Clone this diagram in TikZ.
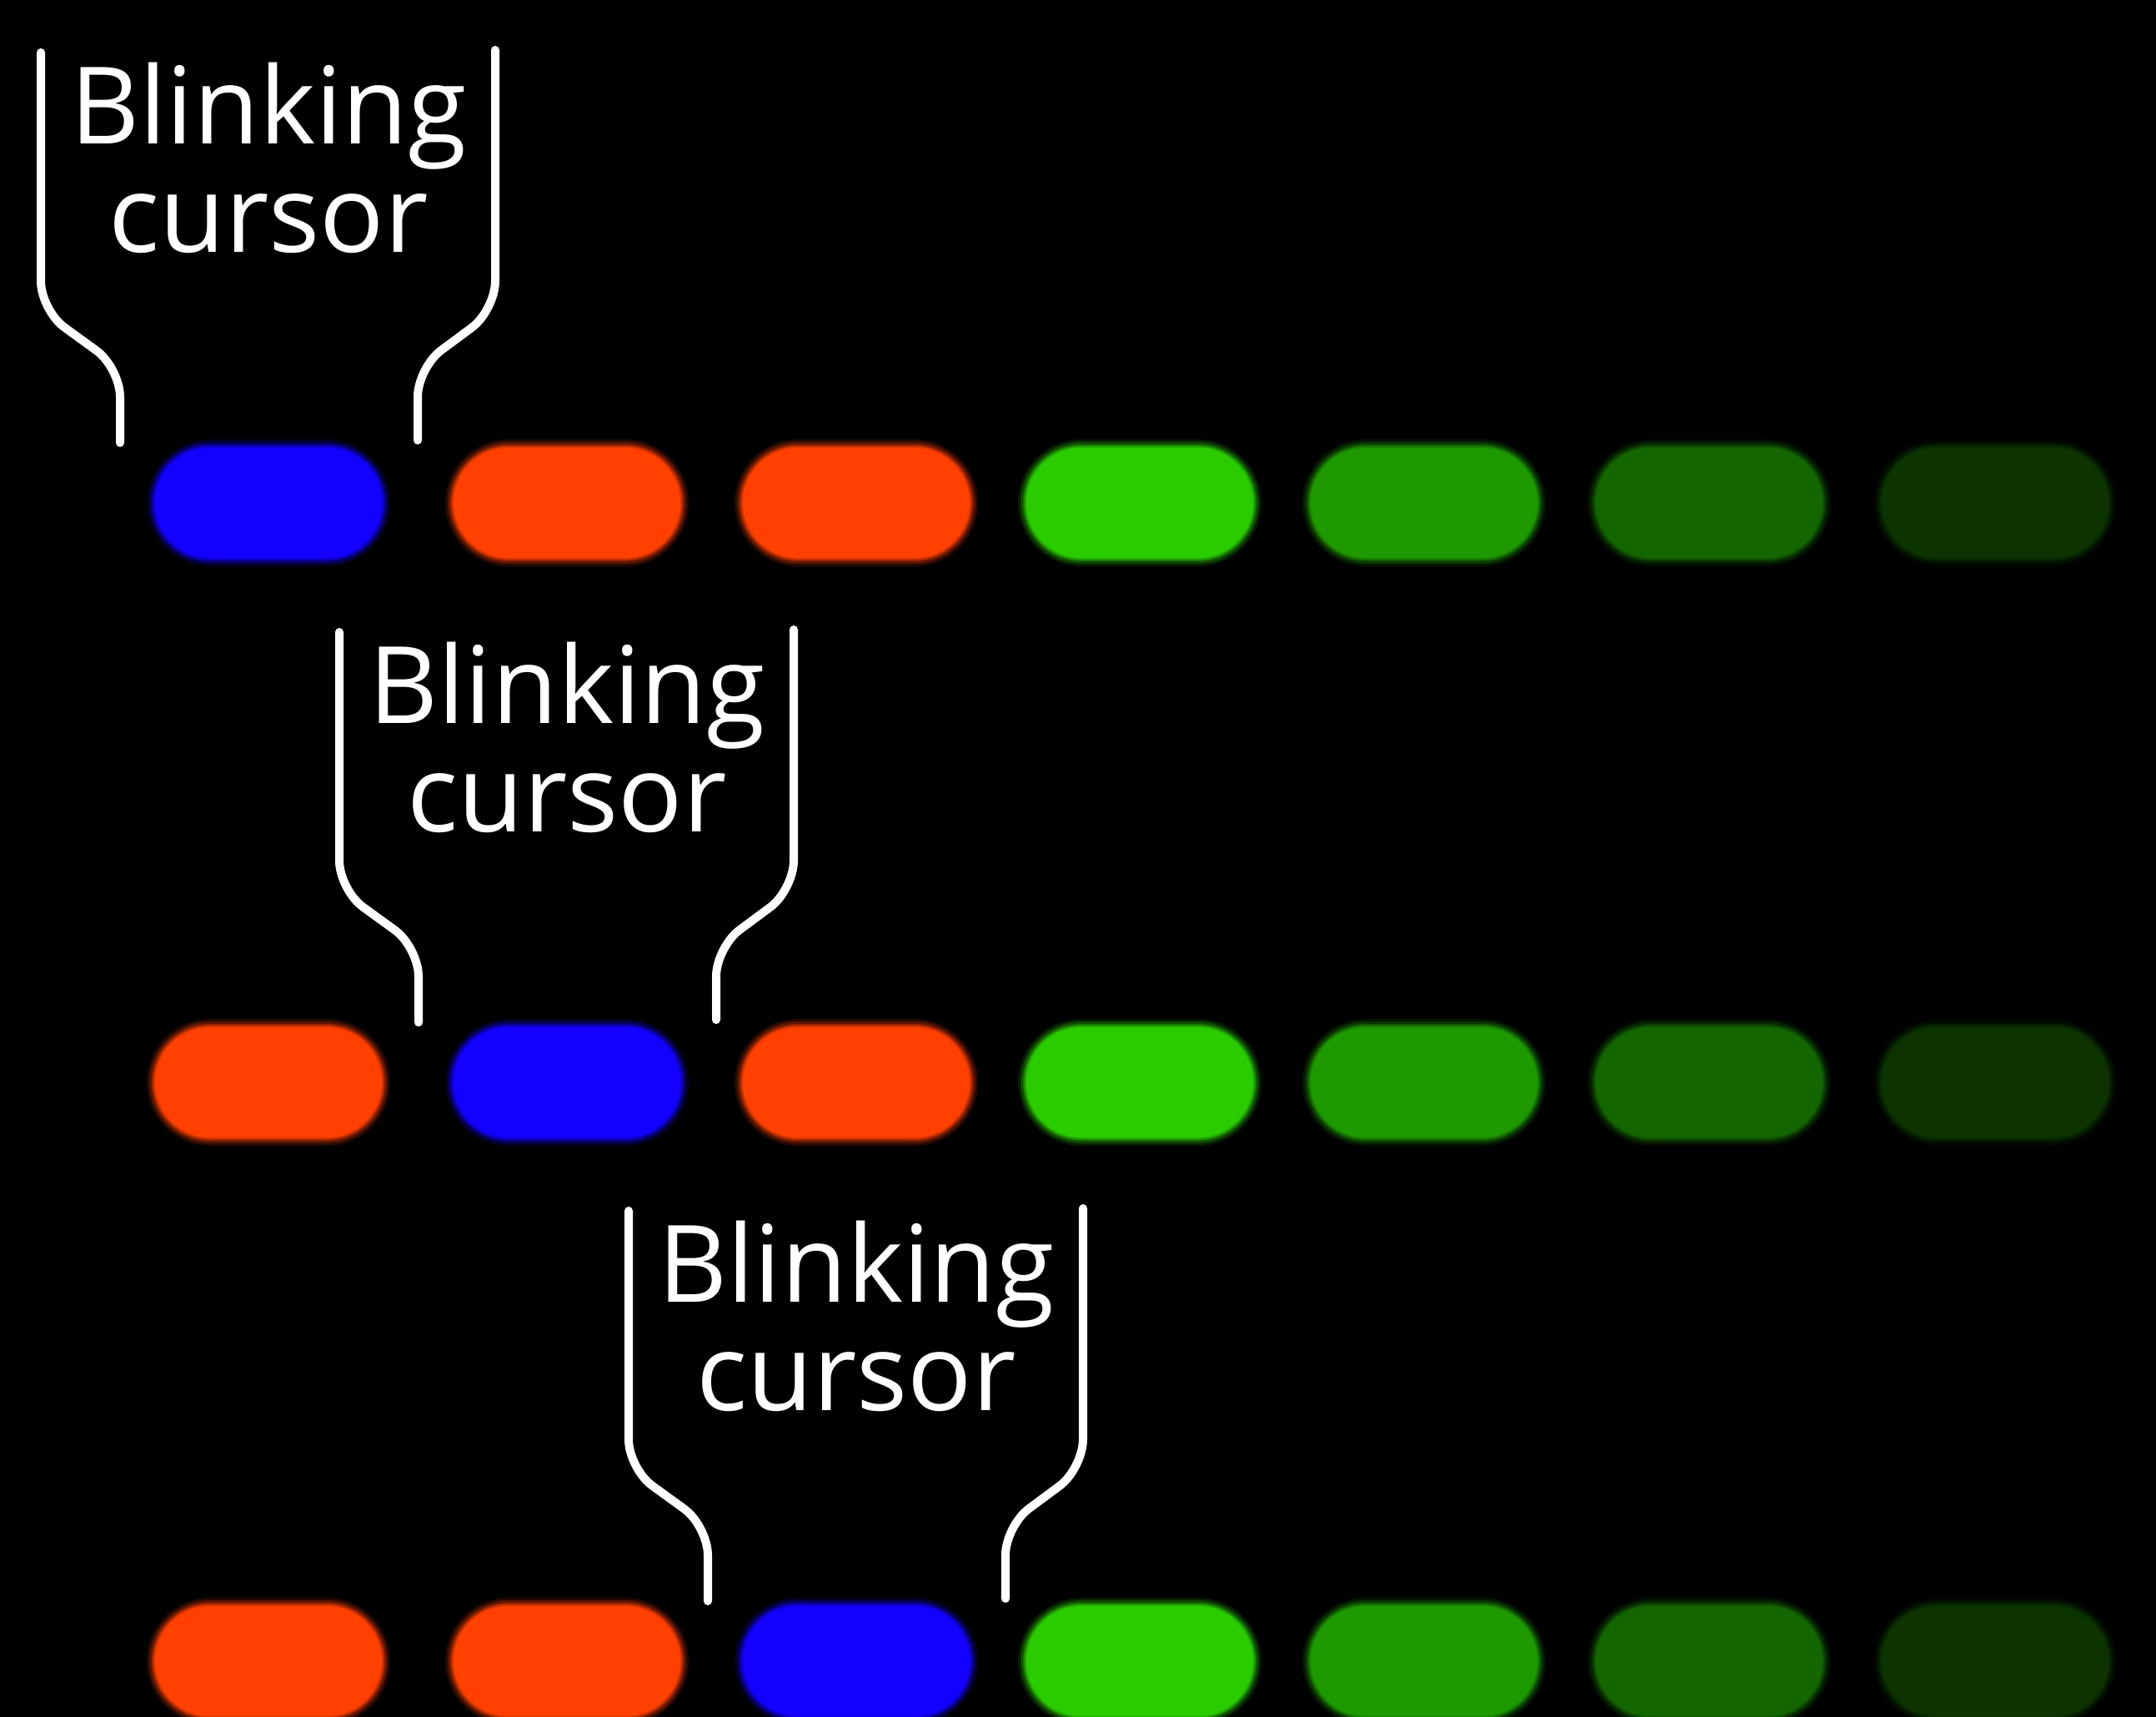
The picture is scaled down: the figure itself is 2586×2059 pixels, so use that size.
\documentclass[tikz,border=0pt]{standalone}
\usepackage{fontspec}
\setmainfont{Open Sans}
\usetikzlibrary{calc}

\definecolor{cursorblue}{RGB}{20,0,255}
\definecolor{charred}{RGB}{255,64,0}
\definecolor{greenA}{RGB}{42,204,0}
\definecolor{greenB}{RGB}{30,153,0}
\definecolor{greenC}{RGB}{20,102,0}
\definecolor{greenD}{RGB}{12,51,0}

\tikzset{
	bracket/.style={draw=white, line width=1mm, line cap=round, rounded corners=3.5mm},
	cursorlabel/.style={text=white, align=center, inner sep=0pt, anchor=north,
		font=\fontsize{36.5}{37}\selectfont}
}

% soft-edged pill: [colour](centre x, centre y)
\def\pill[#1](#2,#3){
	\fill[#1, opacity=0.15, rounded corners=7.6mm] ({#2-146},{#3-76}) rectangle ({#2+146},{#3+76});
	\fill[#1, opacity=0.25, rounded corners=7.3mm] ({#2-143},{#3-73}) rectangle ({#2+143},{#3+73});
	\fill[#1, opacity=0.4, rounded corners=7.0mm] ({#2-140},{#3-70}) rectangle ({#2+140},{#3+70});
	\fill[#1, opacity=0.6, rounded corners=6.8mm] ({#2-138},{#3-68}) rectangle ({#2+138},{#3+68});
	\fill[#1, rounded corners=6.6mm] ({#2-136},{#3-66}) rectangle ({#2+136},{#3+66});
}
% the two bent lines round a label: (pill centre x, pill centre y)
\def\cursorbracket(#1,#2){
	\draw[bracket] ({#1-273},{#2-540}) -- ({#1-273},{#2-231}) -- ({#1-178},{#2-162}) -- ({#1-178},{#2-72});
	\draw[bracket] ({#1+272},{#2-543}) -- ({#1+272},{#2-231}) -- ({#1+179},{#2-162}) -- ({#1+179},{#2-75});
}

\begin{document}
\begin{tikzpicture}[x=0.1mm, y=-0.1mm]
			%%%%% START %%%%%
			
			\fill[black] (0, 0) rectangle (2586, 2059);
			\useasboundingbox (0, 0) rectangle (2586, 2059);
			
			%% row 1
			\pill[cursorblue](322, 603)
			\pill[charred](680, 603)
			\pill[charred](1027, 603)
			\pill[greenA](1367, 603)
			\pill[greenB](1708, 603)
			\pill[greenC](2050, 603)
			\pill[greenD](2393, 603)
			
			\cursorbracket(322, 603)
			\node[cursorlabel] (label1) at (322, 74) {Blinking\\cursor};
			
			%% row 2
			\pill[charred](322, 1298)
			\pill[cursorblue](680, 1298)
			\pill[charred](1027, 1298)
			\pill[greenA](1367, 1298)
			\pill[greenB](1708, 1298)
			\pill[greenC](2050, 1298)
			\pill[greenD](2393, 1298)
			
			\cursorbracket(680, 1298)
			\node[cursorlabel] (label2) at (680, 769) {Blinking\\cursor};
			
			%% row 3
			\pill[charred](322, 1992)
			\pill[charred](680, 1992)
			\pill[cursorblue](1027, 1992)
			\pill[greenA](1367, 1992)
			\pill[greenB](1708, 1992)
			\pill[greenC](2050, 1992)
			\pill[greenD](2393, 1992)
			
			\cursorbracket(1027, 1992)
			\node[cursorlabel] (label3) at (1027, 1463) {Blinking\\cursor};
			
			%%%%% END %%%%%
\end{tikzpicture}
\end{document}
